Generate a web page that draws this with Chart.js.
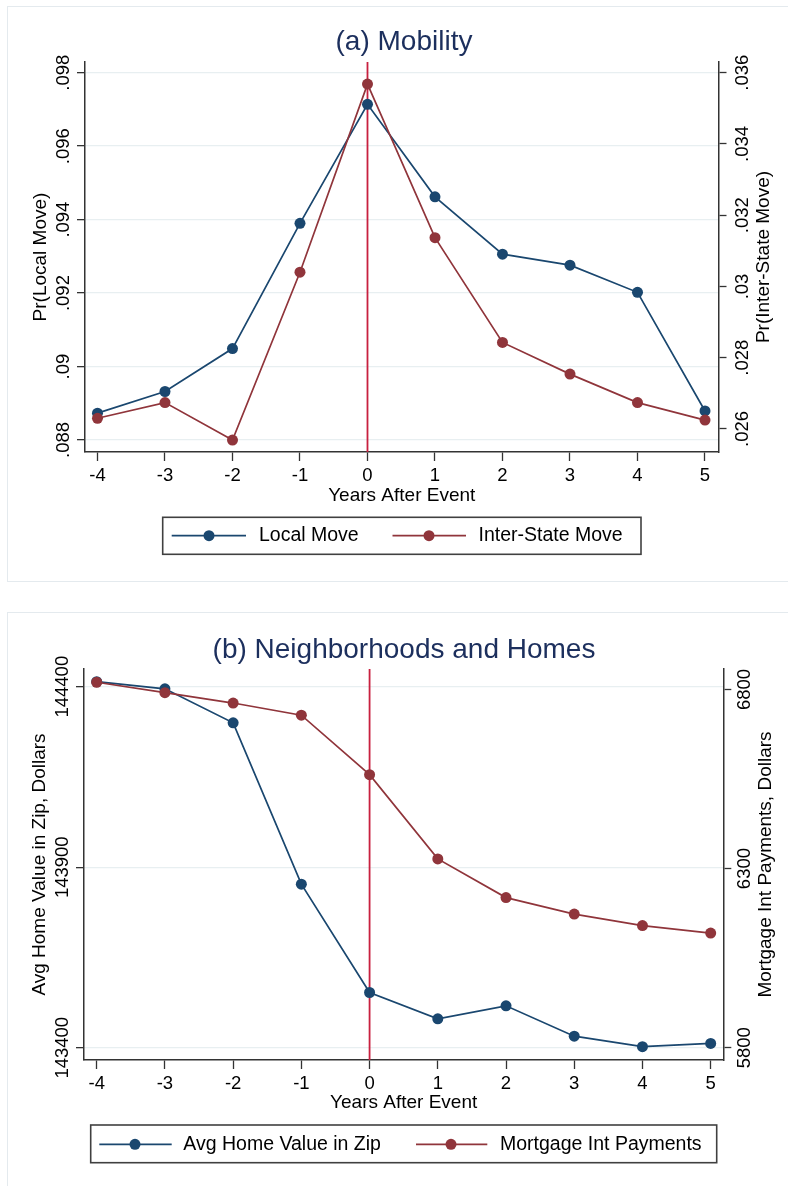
<!DOCTYPE html>
<html>
<head>
<meta charset="utf-8">
<title>Mobility, Neighborhoods and Homes</title>
<script src="https://cdn.jsdelivr.net/npm/chart.js@4.4.1/dist/chart.umd.min.js"></script>
<style>
  html, body { margin: 0; padding: 0; background: #fff; overflow: hidden; }
  body { width: 788px; height: 1186px; position: relative; }
  .frame { position: absolute; border: 1.5px solid #e4eaee; }
  #frameA { left: 7px; top: 6px; width: 800px; height: 574px; }
  #frameB { left: 7px; top: 612px; width: 800px; height: 600px; }
  canvas { position: absolute; left: 0; }
  #chartA { top: 0; }
  #chartB { top: 590px; }
</style>
</head>
<body>
<div class="frame" id="frameA"></div>
<div class="frame" id="frameB"></div>
<canvas id="chartA" width="788" height="582"></canvas>
<canvas id="chartB" width="788" height="596"></canvas>
<script>
// values
const years = [-4, -3, -2, -1, 0, 1, 2, 3, 4, 5];
const eventYear = 0;

const localMove = [0.08873, 0.08932, 0.09049, 0.09390, 0.09714, 0.09462, 0.09306, 0.09276, 0.09202, 0.08879];
const interStateMove = [0.02630, 0.02674, 0.02569, 0.03040, 0.03568, 0.03137, 0.02843, 0.02754, 0.02674, 0.02625];
const homeValue = [144414, 144394, 144300, 143853, 143553, 143480, 143516, 143432, 143403, 143412];
const mortgageInt = [6820, 6791, 6762, 6728, 6562, 6327, 6219, 6173, 6141, 6120];

const localTicks = ['.088', '.09', '.092', '.094', '.096', '.098'];
const interTicks = ['.026', '.028', '.03', '.032', '.034', '.036'];
const homeTicks = ['143400', '143900', '144400'];
const mortTicks = ['5800', '6300', '6800'];

const navy = '#1a476f';
const maroon = '#90353b';
const eventRed = '#c8203f';
const titleInk = '#1c2f5d';
const axisInk = '#333333';
const gridInk = '#e8eff1';
const fam = "'Liberation Sans', Arial, Helvetica, sans-serif";

Chart.defaults.font.family = fam;
Chart.defaults.color = '#000';

// Stata-style extras: event line, upright y labels, right title, boxed legend
const stataPlugin = {
    id: 'stata',
    beforeDatasetsDraw(chart) {
        const ctx = chart.ctx;
        const area = chart.chartArea;
        const px = chart.scales.x.getPixelForValue(eventYear);
        ctx.save();
        ctx.strokeStyle = eventRed;
        ctx.lineWidth = 1.8;
        ctx.beginPath();
        ctx.moveTo(px, area.top);
        ctx.lineTo(px, area.bottom);
        ctx.stroke();
        ctx.restore();
    },
    afterDraw(chart, args, opts) {
        const ctx = chart.ctx;
        const area = chart.chartArea;

        // y tick labels read bottom to top
        [['y', opts.leftLabelX, opts.leftText], ['y1', opts.rightLabelX, opts.rightText]].forEach(([id, lx, texts]) => {
            const s = chart.scales[id];
            ctx.save();
            ctx.font = '18.5px ' + fam;
            ctx.fillStyle = '#000';
            ctx.textAlign = 'center';
            ctx.textBaseline = 'middle';
            s.ticks.forEach((t, i) => {
                ctx.save();
                ctx.translate(lx, s.getPixelForTick(i));
                ctx.rotate(-Math.PI / 2);
                ctx.fillText(texts[i], 0, 0);
                ctx.restore();
            });
            ctx.restore();
        });

        // right axis title, same direction as the left one
        ctx.save();
        ctx.font = '19px ' + fam;
        ctx.fillStyle = '#000';
        ctx.textAlign = 'center';
        ctx.textBaseline = 'middle';
        ctx.translate(opts.rightTitleX, (area.top + area.bottom) / 2);
        ctx.rotate(-Math.PI / 2);
        ctx.fillText(opts.rightTitle, 0, 0);
        ctx.restore();

        // legend box
        const lg = opts.legend;
        ctx.save();
        ctx.strokeStyle = '#404040';
        ctx.lineWidth = 1.6;
        ctx.strokeRect(lg.box[0], lg.box[1], lg.box[2] - lg.box[0], lg.box[3] - lg.box[1]);
        chart.data.datasets.forEach((ds, i) => {
            const it = lg.items[i];
            ctx.strokeStyle = ds.borderColor;
            ctx.lineWidth = 1.7;
            ctx.beginPath();
            ctx.moveTo(it[0], lg.y);
            ctx.lineTo(it[1], lg.y);
            ctx.stroke();
            ctx.fillStyle = ds.borderColor;
            ctx.beginPath();
            ctx.arc(it[2], lg.y, 5.5, 0, Math.PI * 2);
            ctx.fill();
            ctx.fillStyle = '#000';
            ctx.font = '19.5px ' + fam;
            ctx.textAlign = 'left';
            ctx.textBaseline = 'middle';
            ctx.fillText(ds.label, it[3], lg.y);
        });
        ctx.restore();
    }
};

function makePanel(canvasId, o) {
    return new Chart(document.getElementById(canvasId), {
        type: 'line',
        data: {
            datasets: o.series.map((s, k) => ({
                label: s.label,
                data: years.map((x, i) => ({x: x, y: s.values[i]})),
                yAxisID: k === 0 ? 'y' : 'y1',
                borderColor: s.color,
                backgroundColor: s.color,
                pointBackgroundColor: s.color,
                pointBorderWidth: 0,
                pointRadius: 5.5,
                borderWidth: 1.7,
                tension: 0,
                order: 2 - k
            }))
        },
        options: {
            responsive: false,
            animation: false,
            events: [],
            layout: {padding: {left: 20, right: 0, top: 0, bottom: 0}},
            plugins: {
                legend: {display: false},
                tooltip: {enabled: false},
                title: {
                    display: true,
                    text: o.title,
                    color: titleInk,
                    font: {size: 28, weight: 'normal'},
                    padding: {top: o.titleTop, bottom: o.titleBottom}
                },
                stata: {
                    leftLabelX: o.leftLabelX,
                    rightLabelX: o.rightLabelX,
                    leftText: o.leftTicks,
                    rightText: o.rightTicks,
                    rightTitleX: o.rightTitleX,
                    rightTitle: o.rightTitle,
                    legend: o.legend
                }
            },
            scales: {
                x: {
                    type: 'linear',
                    min: o.xMin,
                    max: o.xMax,
                    afterBuildTicks: s => { s.ticks = years.map(v => ({value: v})); },
                    afterFit: s => { s.height = o.xHeight; },
                    grid: {drawOnChartArea: false, tickLength: 9, tickColor: axisInk, tickWidth: 1.3},
                    border: {display: true, color: axisInk, width: 1.5},
                    ticks: {font: {size: 18.5}, color: '#000', padding: 4, callback: v => String(v)},
                    title: {display: true, text: 'Years After Event', font: {size: 19}, color: '#000',
                            padding: {top: 0, bottom: o.xTitlePad}}
                },
                y: {
                    type: 'linear',
                    position: 'left',
                    min: o.leftMin,
                    max: o.leftMax,
                    afterBuildTicks: s => { s.ticks = o.leftTicks.map(t => ({value: Number(t)})); },
                    afterFit: s => { s.width = o.leftWidth; },
                    grid: {color: gridInk, lineWidth: 1.3, tickLength: 8, tickColor: axisInk, tickWidth: 1.3},
                    border: {display: true, color: axisInk, width: 1.5},
                    ticks: {display: false},
                    title: {display: true, text: o.leftTitle, font: {size: 19}, color: '#000',
                            padding: {top: o.leftTitlePad, bottom: 0}}
                },
                y1: {
                    type: 'linear',
                    position: 'right',
                    min: o.rightMin,
                    max: o.rightMax,
                    afterBuildTicks: s => { s.ticks = o.rightTicks.map(t => ({value: Number(t)})); },
                    afterFit: s => { s.width = o.rightWidth; },
                    grid: {drawOnChartArea: false, tickLength: 8, tickColor: axisInk, tickWidth: 1.3},
                    border: {display: true, color: axisInk, width: 1.5},
                    ticks: {display: false},
                    title: {display: false}
                }
            }
        },
        plugins: [stataPlugin]
    });
}

makePanel('chartA', {
    title: '(a) Mobility',
    titleTop: 25.2, titleBottom: 3.2,
    series: [
        {label: 'Local Move', values: localMove, color: navy},
        {label: 'Inter-State Move', values: interStateMove, color: maroon}
    ],
    xMin: -4.185, xMax: 5.2, xHeight: 130, xTitlePad: 74.5,
    leftMin: 0.087673, leftMax: 0.098291, leftTicks: localTicks, leftWidth: 65,
    leftTitle: 'Pr(Local Move)', leftTitlePad: 9.6, leftLabelX: 63.5,
    rightMin: 0.025354, rightMax: 0.0363, rightTicks: interTicks, rightWidth: 69.5,
    rightTitle: 'Pr(Inter-State Move)', rightTitleX: 764, rightLabelX: 742.5,
    legend: {box: [162.7, 517.3, 641, 554.3], y: 535.7,
             items: [[171.7, 246, 209, 259], [392.5, 466, 429, 478.5]]}
});

makePanel('chartB', {
    title: '(b) Neighborhoods and Homes',
    titleTop: 43.2, titleBottom: 2.2,
    series: [
        {label: 'Avg Home Value in Zip', values: homeValue, color: navy},
        {label: 'Mortgage Int Payments', values: mortgageInt, color: maroon}
    ],
    xMin: -4.186, xMax: 5.185, xHeight: 126, xTitlePad: 72,
    leftMin: 143366, leftMax: 144449, leftTicks: homeTicks, leftWidth: 64,
    leftTitle: 'Avg Home Value in Zip, Dollars', leftTitlePad: 8.6, leftLabelX: 63.3,
    rightMin: 5765.7, rightMax: 6857, rightTicks: mortTicks, rightWidth: 64.7,
    rightTitle: 'Mortgage Int Payments, Dollars', rightTitleX: 766, rightLabelX: 745,
    legend: {box: [90.7, 535, 716.7, 572.7], y: 554.3,
             items: [[99.3, 171.7, 135, 183.3], [416, 487.3, 451, 500]]}
});
</script>
</body>
</html>
